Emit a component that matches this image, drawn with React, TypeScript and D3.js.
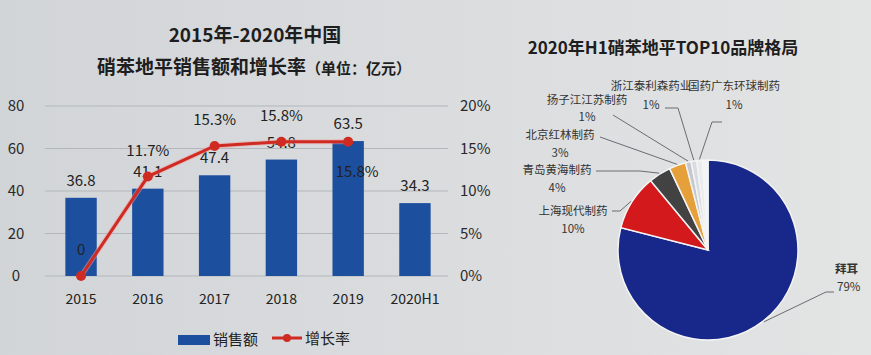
import React from 'react';
import * as d3 from 'd3';

// left chart: sales (亿元) and growth rate
const years = ['2015', '2016', '2017', '2018', '2019', '2020H1'];
const sales = [36.8, 41.1, 47.4, 54.8, 63.5, 34.3];
const growthYears = ['2015', '2016', '2017', '2018', '2019'];
const growth = [0, 11.7, 15.3, 15.8, 15.8];
const salesTicks = [0, 20, 40, 60, 80];
const growthTicks = [0, 5, 10, 15, 20];

// right chart: 2020H1 brand shares (%)
const brands = ['拜耳', '上海现代制药', '青岛黄海制药', '北京红林制药', '扬子江江苏制药', '浙江泰利森药业', '国药广东环球制药', '其他'];
const shares = [79, 10, 4, 3, 1, 1, 1, 1];

const W = 871;
const H = 355;
const font = '"Noto Sans CJK SC", "Noto Sans", sans-serif';

const barColor = '#1d4f9f';
const lineColor = '#cf2b22';
const sliceColors = ['#18278a', '#d3191c', '#424242', '#e5a03a', '#c4c8ce', '#d8dbdf', '#e9ebed', '#f3f4f5'];

// label layout for the pie: [textX, textY, attachX, attachY, elbowX, elbowY, anchor, gap]
const pieLabelLayout: [number, number, number, number, number, number, string, number][] = [
  [835, 273, 834, 292, 826, 292, 'start', 18],
  [573, 215, 612, 211, 620, 211, 'middle', 18],
  [557, 174, 596, 171, 640, 171, 'middle', 18],
  [560, 139, 600, 137, 600, 137, 'middle', 18],
  [587, 104, 613, 115, 613, 115, 'middle', 17],
  [651, 90, 665, 108, 678, 108, 'middle', 19],
  [734, 90, 722, 122, 712, 122, 'middle', 19],
];

export default function App() {
  // left chart scales
  const x = d3.scaleBand<string>().domain(years).range([48, 448]).paddingInner(0.53).paddingOuter(0.26);
  const ySales = d3.scaleLinear().domain([0, 80]).range([276, 106]);
  const yGrowth = d3.scaleLinear().domain([0, 20]).range([276, 106]);
  const cx = (yr: string) => (x(yr) ?? 0) + x.bandwidth() / 2;

  const growthLine = d3.line<number>()
    .x((_, i) => cx(growthYears[i]))
    .y(d => yGrowth(d));

  // pie
  const pcx = 708;
  const pcy = 250;
  const r = 90;
  const arcs = d3.pie<number>().sort(null).value(d => d)(shares);
  const arcGen = d3.arc<d3.PieArcDatum<number>>().innerRadius(0).outerRadius(r);
  const edgeArc = d3.arc<d3.PieArcDatum<number>>().innerRadius(r + 1).outerRadius(r + 1);

  return (
    <svg width={W} height={H} style={{ position: 'absolute', left: 0, top: 0, fontFamily: font }}>
      <defs>
        <linearGradient id="bg" x1="0" x2="1" y1="0" y2="0">
          <stop offset="0" stopColor="#d2d5d8" />
          <stop offset="0.5" stopColor="#dadcde" />
          <stop offset="1" stopColor="#e3e4e4" />
        </linearGradient>
      </defs>
      <rect x={0} y={0} width={W} height={H} fill="url(#bg)" />

      {/* left titles */}
      <text x={255} y={42} textAnchor="middle" fontSize={19} fontWeight="bold" fill="#1e1e1e">2015年-2020年中国</text>
      <text x={97} y={74} fontSize={19} fontWeight="bold" fill="#1e1e1e">
        硝苯地平销售额和增长率
        <tspan fontSize={15}>（单位：亿元）</tspan>
      </text>

      {/* gridlines */}
      {salesTicks.map(t => (
        <line key={`g-${t}`} x1={45} x2={448} y1={ySales(t)} y2={ySales(t)} stroke="#b3b7bb" strokeWidth={1} />
      ))}

      {/* left axis */}
      {salesTicks.map(t => (
        <text key={`yl-${t}`} x={16} y={ySales(t) + 5} textAnchor="middle" fontSize={15} fill="#2a2a2a">{t}</text>
      ))}
      {/* right axis */}
      {growthTicks.map(t => (
        <text key={`yr-${t}`} x={460} y={yGrowth(t) + 5} fontSize={15} fill="#2a2a2a">{t}%</text>
      ))}

      {/* bars */}
      {sales.map((v, i) => (
        <rect key={`b-${i}`} x={x(years[i])} y={ySales(v)} width={x.bandwidth()} height={ySales(0) - ySales(v)} fill={barColor} />
      ))}
      {sales.map((v, i) => (
        <text key={`bl-${i}`} x={cx(years[i])} y={ySales(v) - 12} textAnchor="middle" fontSize={15} fill="#222">{v}</text>
      ))}

      {/* growth line */}
      <path d={growthLine(growth) ?? ''} fill="none" stroke="#f0a0a0" strokeWidth={5} strokeOpacity={0.5} />
      <path d={growthLine(growth) ?? ''} fill="none" stroke={lineColor} strokeWidth={3} />
      {growth.map((g, i) => (
        <circle key={`p-${i}`} cx={cx(growthYears[i])} cy={yGrowth(g)} r={5} fill={lineColor} />
      ))}
      {growth.map((g, i) => {
        const last = i === growth.length - 1;
        return (
          <text key={`gl-${i}`} x={cx(growthYears[i]) + (last ? 9 : 0)} y={yGrowth(g) + (last ? 35 : -21)}
            textAnchor="middle" fontSize={15} fill="#222">
            {g === 0 ? '0' : `${g}%`}
          </text>
        );
      })}

      {/* x axis labels */}
      {years.map(yr => (
        <text key={`x-${yr}`} x={cx(yr)} y={304} textAnchor="middle" fontSize={14} fill="#222">{yr}</text>
      ))}

      {/* legend */}
      <rect x={178} y={335} width={32} height={10} fill={barColor} />
      <text x={213} y={345} fontSize={15} fill="#222">销售额</text>
      <line x1={272} x2={302} y1={338} y2={338} stroke={lineColor} strokeWidth={3} />
      <circle cx={287} cy={338} r={4} fill={lineColor} />
      <text x={305} y={344} fontSize={15} fill="#222">增长率</text>

      {/* right title */}
      <text x={663} y={54} textAnchor="middle" fontSize={17} fontWeight="bold" fill="#1e1e1e">2020年H1硝苯地平TOP10品牌格局</text>

      {/* pie */}
      <g transform={`translate(${pcx},${pcy})`}>
        {arcs.map((a, i) => (
          <path key={`s-${i}`} d={arcGen(a) ?? ''} fill={sliceColors[i]} stroke="#f4f4f4" strokeWidth={1.5} />
        ))}
      </g>

      {/* pie labels and leader lines */}
      {pieLabelLayout.map((lay, i) => {
        const [tx, ty, ax, ay, ex, ey, anchor, gap] = lay;
        const [px, py] = edgeArc.centroid(arcs[i]);
        const pts: [number, number][] = [[pcx + px, pcy + py], [ex, ey], [ax, ay]];
        return (
          <g key={`pl-${i}`}>
            <path d={d3.line()(pts) ?? ''} fill="none" stroke="#6a6d70" strokeWidth={1} />
            <text x={tx} y={ty} textAnchor={anchor as any} fontSize={11.5} fontWeight={i === 0 ? 'bold' : 'normal'} fill="#333">{brands[i]}</text>
            <text x={tx + (i === 0 ? 2 : 0)} y={ty + gap} textAnchor={anchor as any} fontSize={11.5} fill="#333">{shares[i]}%</text>
          </g>
        );
      })}
    </svg>
  );
}
